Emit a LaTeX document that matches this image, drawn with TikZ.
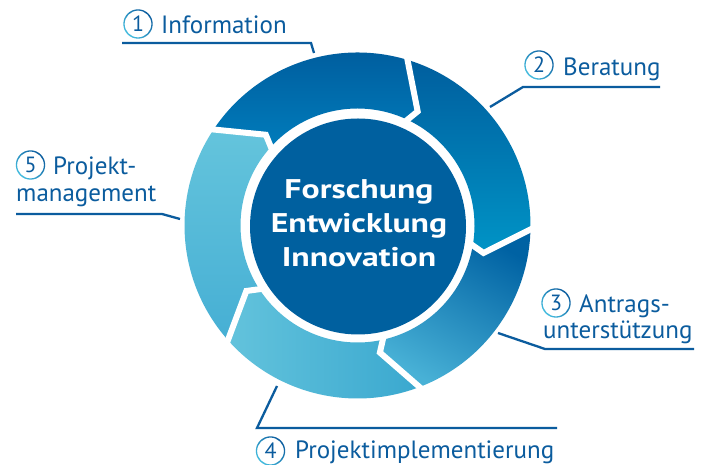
\documentclass[tikz,border=0pt]{standalone}
\usepackage{fontspec}
\setmainfont{PT Sans}
\newfontfamily\ctfont[FakeStretch=1.25]{PT Sans}
\usetikzlibrary{calc}
\definecolor{lblue}{HTML}{0B5C9E}
\definecolor{darkc}{HTML}{00609F}
\definecolor{numdark}{HTML}{0B5C9E}
\definecolor{numlight}{HTML}{45BDDF}
\definecolor{sa1}{HTML}{005A9B}
\definecolor{sb1}{HTML}{007CBB}
\definecolor{sa2}{HTML}{005E9E}
\definecolor{sb2}{HTML}{0094C6}
\definecolor{sa3}{HTML}{0062A3}
\definecolor{sm3}{HTML}{0098C8}
\definecolor{sb3}{HTML}{48B1D6}
\definecolor{sa4}{HTML}{63C3DC}
\definecolor{sb4}{HTML}{3AA8CF}
\definecolor{sa5}{HTML}{64C4DC}
\definecolor{sm5}{HTML}{60C1DB}
\definecolor{sb5}{HTML}{46AFD4}
\tikzset{
  lbl/.style={font=\fontsize{25}{27}\selectfont, text=lblue, inner sep=0pt, anchor=base west},
  numtxt/.style={font=\fontsize{22}{22}\selectfont, text=lblue, inner sep=0pt, circle, minimum size=29pt},
  leader/.style={draw=lblue, line width=2.3pt, line join=miter},
  gapline/.style={draw=white, line width=6pt, line join=miter},
  ctext/.style={font=\ctfont\bfseries\fontsize{27}{30}\selectfont, text=white, inner sep=0pt, anchor=base},
}
\newcommand\numring[1]{\shade[top color=numdark, bottom color=numlight, shading angle=-45, even odd rule] (#1) circle[radius=14.7pt] circle[radius=13.4pt];}
\begin{document}
\begin{tikzpicture}[x=1pt,y=1pt]
\useasboundingbox (0,0) rectangle (710,465);
\fill[white] (0,0) rectangle (710,465);
\begin{scope}[shift={(357.5,239.5)}]
  \coordinate (o51) at (146.3:173pt); \coordinate (k51) at (135.3:129pt); \coordinate (i51) at (137.8:117pt);
  \coordinate (o12) at (73.2:173pt);  \coordinate (k12) at (62.2:129pt);  \coordinate (i12) at (64.7:117pt);
  \coordinate (o23) at (-1.3:173pt);  \coordinate (k23) at (-12.3:129pt); \coordinate (i23) at (-9.8:117pt);
  \coordinate (o34) at (-69:173pt);   \coordinate (k34) at (-80:129pt);   \coordinate (i34) at (-77.5:117pt);
  \coordinate (o45) at (221.5:173pt); \coordinate (k45) at (210.5:129pt); \coordinate (i45) at (213:117pt);
  \shade[top color=sa1, bottom color=sb1]
    (o51) arc[start angle=146.3, end angle=73.2, radius=173pt] -- (k12) -- (i12)
    arc[start angle=64.7, end angle=137.8, radius=117pt] -- (k51) -- cycle;
  \shade[top color=sa2, bottom color=sb2]
    (o12) arc[start angle=73.2, end angle=-1.3, radius=173pt] -- (k23) -- (i23)
    arc[start angle=-9.8, end angle=64.7, radius=117pt] -- (k12) -- cycle;
  \shade[top color=sa3, middle color=sm3, bottom color=sb3, shading angle=-30]
    (o23) arc[start angle=-1.3, end angle=-69, radius=173pt] -- (k34) -- (i34)
    arc[start angle=-77.5, end angle=-9.8, radius=117pt] -- (k23) -- cycle;
  \shade[left color=sa4, right color=sb4]
    (o34) arc[start angle=291, end angle=221.5, radius=173pt] -- (k45) -- (i45)
    arc[start angle=213, end angle=282.5, radius=117pt] -- (k34) -- cycle;
  \shade[top color=sa5, middle color=sm5, bottom color=sb5]
    (o45) arc[start angle=221.5, end angle=146.3, radius=173pt] -- (k51) -- (i51)
    arc[start angle=137.8, end angle=213, radius=117pt] -- (k45) -- cycle;
  \foreach \b in {51,12,23,34,45}{
    \draw[gapline] ($(k\b)!1.25!(o\b)$) -- (k\b) -- ($(k\b)!1.6!(i\b)$);
  }
\end{scope}
\node[circle, fill=darkc, minimum size=216pt, inner sep=0pt] (core) at (358,238.5) {};
\node[ctext] (c1) at (359,266) {Forschung};
\node[ctext] (c2) at (359,232) {Entwicklung};
\node[ctext] (c3) at (359,198) {Innovation};
\numring{138,441}\node[numtxt] (n1) at (138,441) {1};
\node[lbl] (t1) at (161,431) {Information};
\numring{539,400}\node[numtxt] (n2) at (539,400) {2};
\node[lbl] (t2) at (563,389) {Beratung};
\numring{556,162}\node[numtxt] (n3) at (556,162) {3};
\node[lbl] (t3a) at (579,152) {Antrags-};
\node[lbl] (t3b) at (543,126) {unterstützung};
\numring{270.5,14}\node[numtxt] (n4) at (270.5,14) {4};
\node[lbl] (t4) at (295,6) {Projektimplementierung};
\numring{30.5,300}\node[numtxt] (n5) at (30.5,300) {5};
\node[lbl] (t5a) at (53,290) {Projekt-};
\node[lbl] (t5b) at (16,263) {management};
\coordinate (l1a) at (122,422); \coordinate (l1b) at (311,422); \coordinate (l1c) at (314,412);
\coordinate (l2a) at (660,378); \coordinate (l2b) at (523,378); \coordinate (l2c) at (490,358);
\coordinate (l3a) at (694,116); \coordinate (l3b) at (545,116); \coordinate (l3c) at (498,132);
\coordinate (l4a) at (557,37);  \coordinate (l4b) at (257,37);  \coordinate (l4c) at (277,79);
\coordinate (l5a) at (16,251);  \coordinate (l5b) at (162,251); \coordinate (l5c) at (180,246);
\draw[leader] (l1a) -- (l1b) -- (l1c);
\draw[leader] (l2a) -- (l2b) -- (l2c);
\draw[leader] (l3a) -- (l3b) -- (l3c);
\draw[leader] (l4a) -- (l4b) -- (l4c);
\draw[leader] (l5a) -- (l5b) -- (l5c);
\end{tikzpicture}
\end{document}
